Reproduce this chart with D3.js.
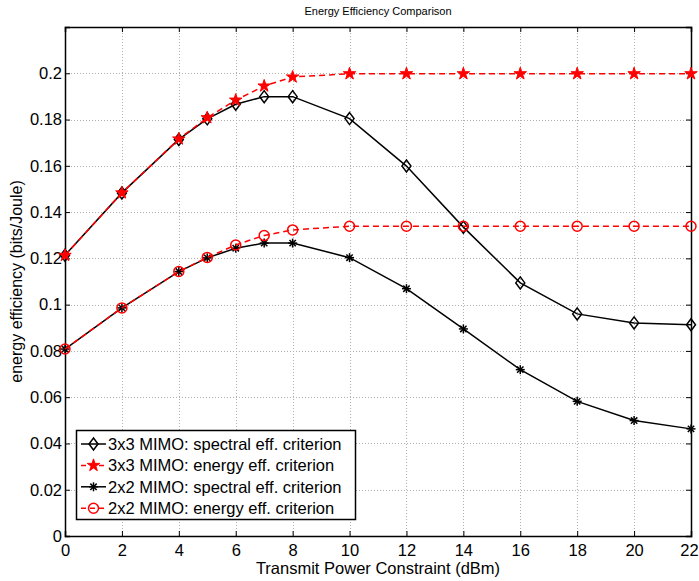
<!DOCTYPE html>
<html>
<head>
<meta charset="utf-8">
<script src="https://cdn.jsdelivr.net/npm/d3@7"></script>
<style>
  body { margin: 0; background: #fff; }
  text { font-family: "Liberation Sans", Arial, sans-serif; }
</style>
</head>
<body>
<div id="chart"></div>
<script>
// data
var power = [0, 2, 4, 5, 6, 7, 8, 10, 12, 14, 16, 18, 20, 22];
var mimo3Spectral = [0.1213, 0.1483, 0.1714, 0.1803, 0.1866, 0.1899, 0.1899, 0.1804, 0.1599, 0.1335, 0.1094, 0.0960, 0.0921, 0.0913];
var mimo3Energy   = [0.1213, 0.1483, 0.1716, 0.1808, 0.1884, 0.1945, 0.1984, 0.1998, 0.1998, 0.1998, 0.1998, 0.1998, 0.1998, 0.1998];
var mimo2Spectral = [0.0808, 0.0986, 0.1143, 0.1202, 0.1244, 0.1266, 0.1266, 0.1203, 0.1069, 0.0895, 0.0719, 0.0582, 0.0499, 0.0463];
var mimo2Energy   = [0.0808, 0.0986, 0.1143, 0.1204, 0.1258, 0.1299, 0.1323, 0.1339, 0.1339, 0.1339, 0.1339, 0.1339, 0.1339, 0.1339];
var xTicks = [0, 2, 4, 6, 8, 10, 12, 14, 16, 18, 20, 22];
var yTicks = [0, 0.02, 0.04, 0.06, 0.08, 0.1, 0.12, 0.14, 0.16, 0.18, 0.2];
var seriesNames = ["3x3 MIMO: spectral eff. criterion", "3x3 MIMO: energy eff. criterion",
                   "2x2 MIMO: spectral eff. criterion", "2x2 MIMO: energy eff. criterion"];

var width = 699, height = 581;
var margin = {left: 65, top: 27, right: 8, bottom: 45};
var fontSize = 16.5;

var svg = d3.select("#chart").append("svg")
    .attr("width", width).attr("height", height);

var x = d3.scaleLinear().domain([0, 22]).range([margin.left, width - margin.right]);
var y = d3.scaleLinear().domain([0, 0.22]).range([height - margin.bottom, margin.top]);

var x0 = x(0), x1 = x(22), y0 = y(0), y1 = y(0.22);

// grid
var grid = svg.append("g").attr("stroke", "#b0b0b0").attr("stroke-width", 1).attr("stroke-dasharray", "1,2");
grid.selectAll(".gx").data(xTicks.slice(1, -1)).enter().append("line")
    .attr("x1", d => Math.round(x(d)) + 0.5).attr("x2", d => Math.round(x(d)) + 0.5)
    .attr("y1", y1).attr("y2", y0);
grid.selectAll(".gy").data(yTicks.slice(1)).enter().append("line")
    .attr("y1", d => Math.round(y(d)) + 0.5).attr("y2", d => Math.round(y(d)) + 0.5)
    .attr("x1", x0).attr("x2", x1);

// axes (MATLAB style: inward ticks on all four sides)
var fmt = d => d === 0 ? "0" : d3.format("")(+d.toFixed(2));
var xAxisG = svg.append("g").attr("transform", "translate(0," + y0 + ")")
    .call(d3.axisBottom(x).tickValues(xTicks).tickSize(-5).tickPadding(8).tickFormat(d => d));
svg.append("g").attr("transform", "translate(0," + y1 + ")")
    .call(d3.axisTop(x).tickValues(xTicks).tickSize(-5).tickFormat(""));
svg.append("g").attr("transform", "translate(" + x0 + ",0)")
    .call(d3.axisLeft(y).tickValues(yTicks).tickSize(-5).tickPadding(3).tickFormat(fmt));
svg.append("g").attr("transform", "translate(" + x1 + ",0)")
    .call(d3.axisRight(y).tickValues(yTicks).tickSize(-5).tickFormat(""));

svg.selectAll(".domain").attr("stroke", "#000").attr("stroke-width", 1.5);
svg.selectAll(".tick line").attr("stroke", "#000");
svg.selectAll(".tick text").attr("font-size", fontSize).attr("fill", "#000")
    .attr("font-family", "'Liberation Sans', Arial, sans-serif");
// keep the last x label inside the window
xAxisG.selectAll(".tick text").filter(d => d === 22).attr("dx", -2);

// series
var series = [
  {name: seriesNames[0], values: mimo3Spectral, color: "#000", dash: null, marker: "diamond"},
  {name: seriesNames[1], values: mimo3Energy, color: "#ff0000", dash: "6,4", marker: "star"},
  {name: seriesNames[2], values: mimo2Spectral, color: "#000", dash: null, marker: "asterisk"},
  {name: seriesNames[3], values: mimo2Energy, color: "#ff0000", dash: "6,4", marker: "circle"}
];

var line = d3.line().x(d => x(d[0])).y(d => y(d[1]));

function drawMarker(g, type, color) {
  if (type === "diamond") {
    g.append("path").attr("d", "M0,-6L4.5,0L0,6L-4.5,0Z")
      .attr("fill", "none").attr("stroke", color).attr("stroke-width", 1.5);
  } else if (type === "star") {
    g.append("path").attr("d", d3.symbol().type(d3.symbolStar).size(48)())
      .attr("fill", color).attr("stroke", color).attr("stroke-width", 1);
  } else if (type === "asterisk") {
    var r = 4.5;
    for (var i = 0; i < 4; i++) {
      var a = i * Math.PI / 4;
      g.append("line").attr("x1", -r * Math.cos(a)).attr("y1", -r * Math.sin(a))
        .attr("x2", r * Math.cos(a)).attr("y2", r * Math.sin(a))
        .attr("stroke", color).attr("stroke-width", 1.5);
    }
  } else if (type === "circle") {
    g.append("circle").attr("r", 5).attr("fill", "none")
      .attr("stroke", color).attr("stroke-width", 1.5);
  }
}

series.forEach(function (s) {
  var pts = power.map((p, i) => [p, s.values[i]]);
  svg.append("path").datum(pts)
    .attr("d", line).attr("fill", "none")
    .attr("stroke", s.color).attr("stroke-width", 1.5)
    .attr("stroke-dasharray", s.dash);
  pts.forEach(function (p) {
    var g = svg.append("g").attr("transform", "translate(" + x(p[0]) + "," + y(p[1]) + ")");
    drawMarker(g, s.marker, s.color);
  });
});

// legend
var lg = svg.append("g");
lg.append("rect").attr("x", 76.5).attr("y", 430.5).attr("width", 279).attr("height", 89)
  .attr("fill", "#fff").attr("stroke", "#000").attr("stroke-width", 1.5);
series.forEach(function (s, i) {
  var ly = 444 + i * 21.4;
  lg.append("line").attr("x1", 81).attr("x2", 106).attr("y1", ly).attr("y2", ly)
    .attr("stroke", s.color).attr("stroke-width", 1.5).attr("stroke-dasharray", s.dash ? "5,4" : null);
  var g = lg.append("g").attr("transform", "translate(93.5," + ly + ")");
  drawMarker(g, s.marker, s.color);
  lg.append("text").attr("x", 108).attr("y", ly + 6).attr("font-size", fontSize).text(s.name);
});

// title and axis labels
svg.append("text").attr("x", 378).attr("y", 15).attr("text-anchor", "middle")
  .attr("font-size", 11).text("Energy Efficiency Comparison");
svg.append("text").attr("x", 378).attr("y", 574).attr("text-anchor", "middle")
  .attr("font-size", fontSize).text("Transmit Power Constraint (dBm)");
svg.append("text").attr("transform", "translate(22," + ((y0 + y1) / 2) + ") rotate(-90)")
  .attr("text-anchor", "middle").attr("font-size", 16).text("energy efficiency (bits/Joule)");
</script>
</body>
</html>
